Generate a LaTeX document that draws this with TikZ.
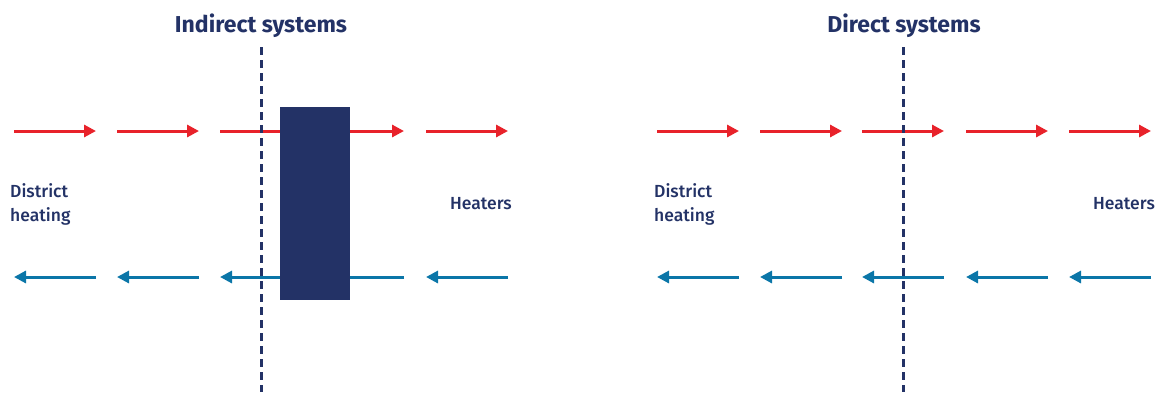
\documentclass[tikz,border=0pt]{standalone}
\usepackage{fontspec}
\setmainfont{Fira Sans}
\newfontfamily\medfont{Fira Sans}[UprightFont=* Medium]
\usetikzlibrary{arrows.meta}
\definecolor{sysnavy}{HTML}{233266}
\definecolor{supplyred}{HTML}{E8222A}
\definecolor{returnblue}{HTML}{0B76A8}

\begin{document}
\begin{tikzpicture}[x=1pt,y=-1pt,
  title/.style={font=\bfseries\fontsize{23}{28}\selectfont,text=sysnavy,inner sep=0pt,anchor=base},
  lbl/.style={font=\medfont\fontsize{17.5}{24}\selectfont,text=sysnavy,align=left,inner sep=0pt,anchor=base west},
  hot/.style={draw=supplyred,line width=3pt,-{Triangle[length=12pt,width=12pt]}},
  cold/.style={draw=returnblue,line width=3pt,-{Triangle[length=12pt,width=12pt]}},
  divider/.style={draw=sysnavy,line width=3pt,dash pattern=on 8pt off 5pt},
  hex/.style={fill=sysnavy,minimum width=70pt,minimum height=193pt,inner sep=0pt,anchor=north west}]
\useasboundingbox (0,0) rectangle (1158,392);
% indirect systems
\node[title] (tInd) at (261,32) {Indirect systems};
\foreach \s/\e [count=\i] in {14/96,117/199,220/404,426/508}{
  \coordinate (ira\i) at (\s,131); \coordinate (irb\i) at (\e,131);
  \draw[hot] (ira\i)--(irb\i);
  \coordinate (iba\i) at (\e,277); \coordinate (ibb\i) at (\s,277);
  \draw[cold] (iba\i)--(ibb\i);
}
\coordinate (iTop) at (261,47); \coordinate (iBot) at (261,392);
\draw[divider] (iTop)--(iBot);
\node[hex] (hx) at (280,107) {};
\node[lbl] (dhA) at (10,221) {District\\heating};
\node[lbl] (htA) at (450,209) {Heaters};
% direct systems
\node[title] (tDir) at (904,32) {Direct systems};
\foreach \s/\e [count=\i] in {657/739,760/842,862/944,966/1048,1069/1151}{
  \coordinate (dra\i) at (\s,131); \coordinate (drb\i) at (\e,131);
  \draw[hot] (dra\i)--(drb\i);
  \coordinate (dba\i) at (\e,277); \coordinate (dbb\i) at (\s,277);
  \draw[cold] (dba\i)--(dbb\i);
}
\coordinate (dTop) at (903,47); \coordinate (dBot) at (903,392);
\draw[divider] (dTop)--(dBot);
\node[lbl] (dhB) at (654,221) {District\\heating};
\node[lbl] (htB) at (1093,209) {Heaters};
\end{tikzpicture}
\end{document}
